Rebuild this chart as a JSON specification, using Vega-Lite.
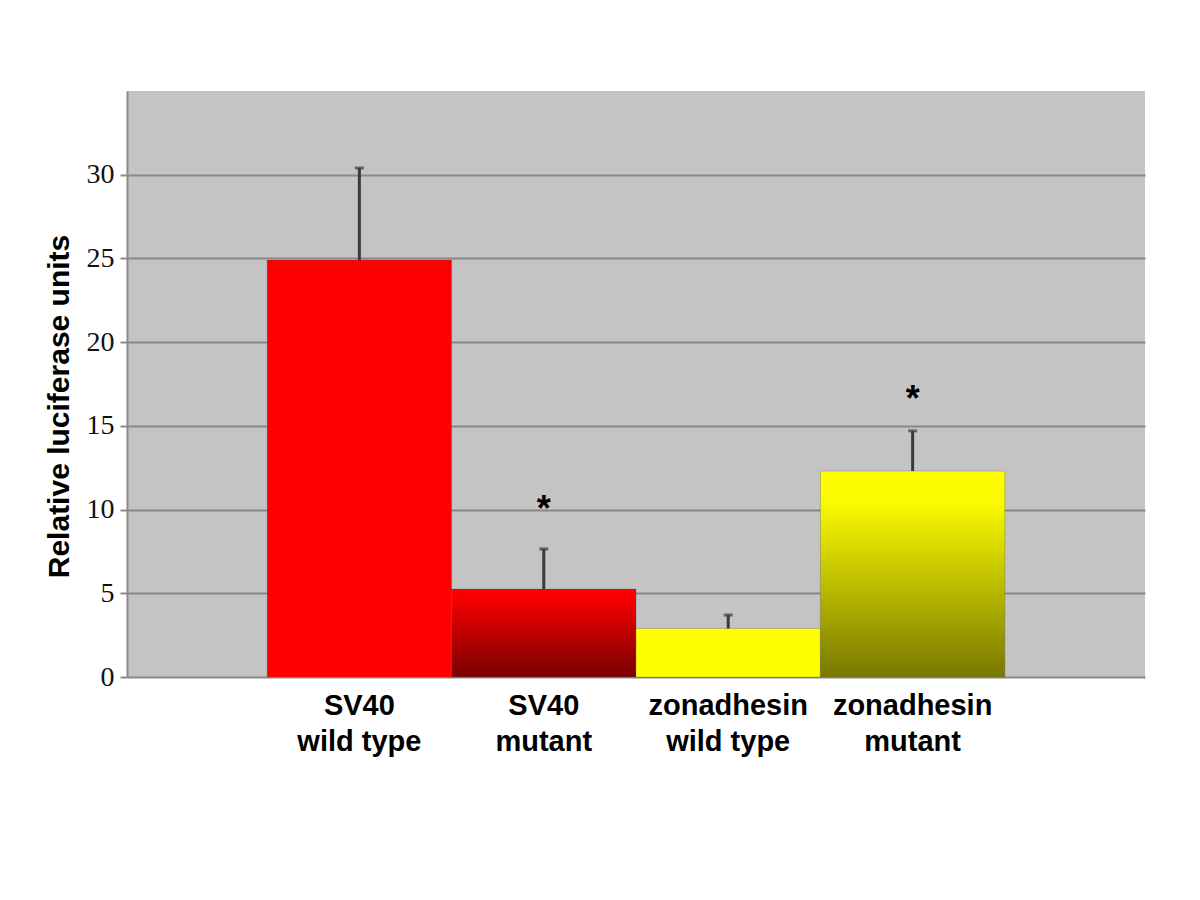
{
  "$schema": "https://vega.github.io/schema/vega-lite/v6.json",
  "width": 1018,
  "height": 586,
  "autosize": "none",
  "padding": {"left": 127, "top": 91, "right": 55, "bottom": 223},
  "background": "white",
  "config": {"view": {"fill": "#C4C4C4", "stroke": null}},
  "data": {
    "values": [
      {"group": "SV40|wild type", "value": 24.9, "upper": 30.4, "star": null},
      {"group": "SV40|mutant", "value": 5.25, "upper": 7.65, "star": "*", "starpos": 10.2},
      {"group": "zonadhesin|wild type", "value": 2.9, "upper": 3.7, "star": null},
      {"group": "zonadhesin|mutant", "value": 12.3, "upper": 14.7, "star": "*", "starpos": 16.8}
    ]
  },
  "encoding": {
    "x": {
      "field": "group",
      "type": "nominal",
      "sort": null,
      "scale": {"paddingInner": 0, "paddingOuter": 0.76},
      "axis": {
        "title": null,
        "labelAngle": 0,
        "labelExpr": "split(datum.value, '|')",
        "labelFont": "Liberation Sans Narrow, Arial Narrow, Liberation Sans",
        "labelFontWeight": "bold",
        "labelFontSize": 29,
        "labelLineHeight": 36,
        "labelColor": "black",
        "labelPadding": 14,
        "domain": false,
        "ticks": false,
        "grid": false
      }
    }
  },
  "layer": [
    {
      "mark": {"type": "bar", "stroke": "#555555", "strokeWidth": 0.6, "strokeOpacity": 0.5},
      "encoding": {
        "y": {
          "field": "value",
          "type": "quantitative",
          "scale": {"domain": [0, 35], "nice": false},
          "axis": {
            "values": [0, 5, 10, 15, 20, 25, 30],
            "title": "Relative luciferase units",
            "titleFont": "Liberation Sans",
            "titleFontWeight": "bold",
            "titleFontSize": 30,
            "titleColor": "black",
            "titlePadding": 12,
            "titleY": 315,
            "labelFont": "Liberation Serif",
            "labelFontSize": 28,
            "labelColor": "#111111",
            "labelPadding": 6,
            "tickSize": 7,
            "tickColor": "#8a8a8a",
            "tickWidth": 2,
            "domainColor": "#8a8a8a",
            "domainWidth": 2,
            "gridColor": "#888888",
            "gridWidth": 2
          }
        },
        "color": {
          "condition": [
            {"test": "datum.group == 'SV40|mutant'", "value": {"gradient": "linear", "x1": 0, "y1": 0, "x2": 0, "y2": 1, "stops": [{"offset": 0, "color": "#FF0000"}, {"offset": 0.1, "color": "#F80000"}, {"offset": 1, "color": "#780000"}]}},
            {"test": "datum.group == 'zonadhesin|mutant'", "value": {"gradient": "linear", "x1": 0, "y1": 0, "x2": 0, "y2": 1, "stops": [{"offset": 0, "color": "#FFFF00"}, {"offset": 0.15, "color": "#FAFA00"}, {"offset": 1, "color": "#787800"}]}},
            {"test": "datum.group == 'zonadhesin|wild type'", "value": "#FFFF00"}
          ],
          "value": "#FF0000"
        }
      }
    },
    {
      "mark": {"type": "rule", "color": "#3a3a3a", "strokeWidth": 3},
      "encoding": {
        "y": {"field": "value", "type": "quantitative"},
        "y2": {"field": "upper"}
      }
    },
    {
      "mark": {"type": "tick", "color": "#3a3a3a", "thickness": 3, "size": 9},
      "encoding": {
        "y": {"field": "upper", "type": "quantitative"}
      }
    },
    {
      "mark": {"type": "text", "font": "Liberation Sans", "fontWeight": "bold", "fontSize": 36, "color": "black", "baseline": "middle", "dy": 4},
      "encoding": {
        "y": {"field": "starpos", "type": "quantitative"},
        "text": {"field": "star"}
      }
    }
  ]
}
